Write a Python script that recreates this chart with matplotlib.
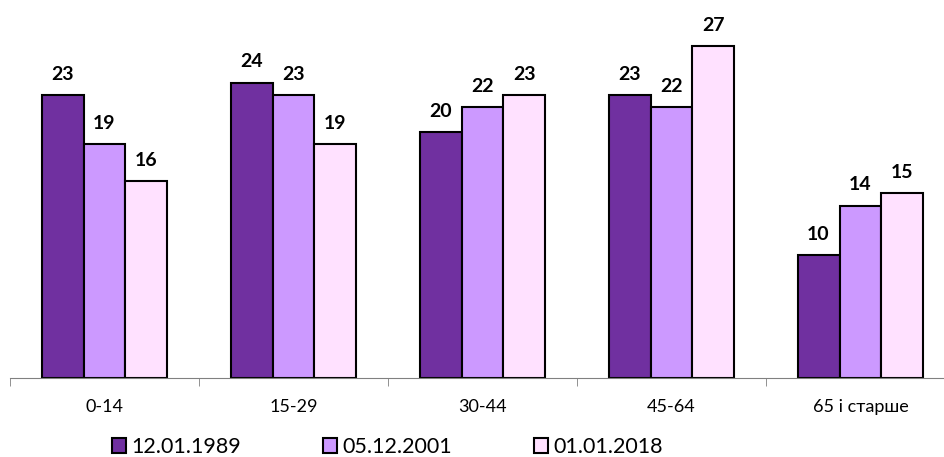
import numpy as np
import matplotlib
matplotlib.use('Agg')
import matplotlib.pyplot as plt
from matplotlib.patches import Patch

plt.rcParams['font.family'] = ['Lato', 'DejaVu Sans']

# Data
categories = ['0-14', '15-29', '30-44', '45-64', '65 і старше']
series_names = ['12.01.1989', '05.12.2001', '01.01.2018']
v1989 = [23, 24, 20, 23, 10]
v2001 = [19, 23, 22, 22, 14]
v2018 = [16, 19, 23, 27, 15]
colors = ['#7030A0', '#CC99FF', '#FFE1FF']

fig = plt.figure(figsize=(9.44, 4.57), dpi=100)
ax = fig.add_axes([10 / 944, 79 / 457, 945 / 944, 369 / 457])

x = np.arange(len(categories))
w = 0.222
for i, (vals, col) in enumerate(zip([v1989, v2001, v2018], colors)):
    pos = x + (i - 1) * w
    ax.bar(pos, vals, width=w, color=col, edgecolor='black', linewidth=1.5)
    for p, v in zip(pos, vals):
        ax.text(p, v + 1.0, str(v), ha='center', va='bottom',
                fontsize=14, fontweight='bold')

ax.set_xlim(-0.5, len(categories) - 0.5)
ax.set_ylim(0, 30)
ax.set_yticks([])
for s in ['top', 'left', 'right']:
    ax.spines[s].set_visible(False)
ax.spines['bottom'].set_color('#808080')
ax.set_xticks(x)
ax.set_xticklabels(categories, fontsize=13)
ax.tick_params(axis='x', which='major', length=0, pad=15)
ax.set_xticks(np.arange(len(categories) + 1) - 0.5, minor=True)
ax.tick_params(axis='x', which='minor', length=6, color='#808080', direction='out')

handles = [Patch(facecolor=c, edgecolor='black', linewidth=1.5) for c in colors]
fig.legend(handles, series_names, loc='center left', bbox_to_anchor=(112 / 944, 10 / 457),
           ncol=3, frameon=False, fontsize=15.5, handlelength=0.65, handleheight=0.65,
           handletextpad=0.25, columnspacing=3.8, borderaxespad=0, borderpad=0)

fig.savefig('out.png', dpi=100)
